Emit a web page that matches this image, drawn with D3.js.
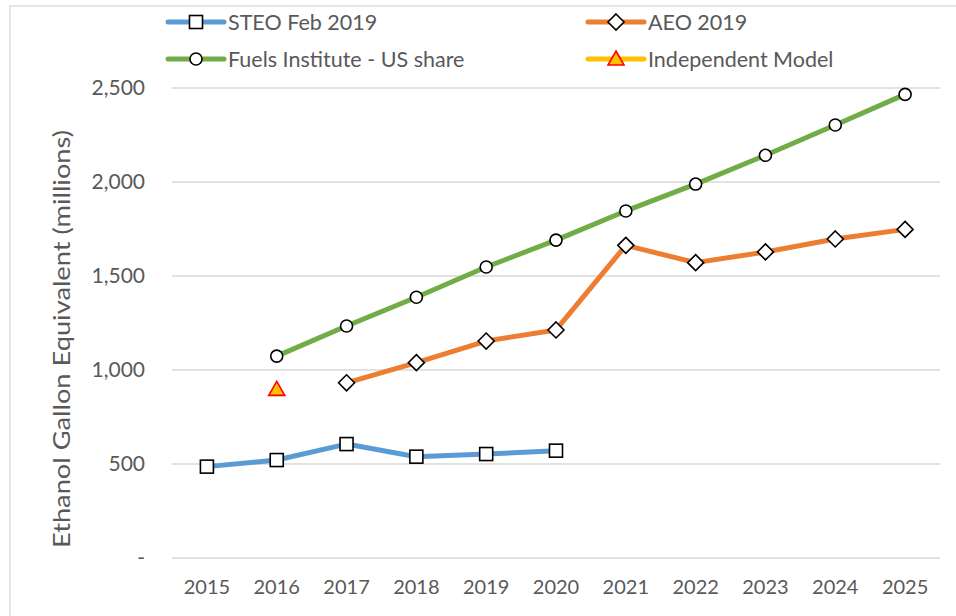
<!DOCTYPE html>
<html><head><meta charset="utf-8">
<script src="https://cdn.jsdelivr.net/npm/d3@7"></script>
<style>body{margin:0;background:#fff}svg{display:block}</style>
</head><body><svg id="c" width="956" height="616"></svg>
<script>
const years = ["2015","2016","2017","2018","2019","2020","2021","2022","2023","2024","2025"];
const steo = [486, 521, 606, 539, 553, 571, null, null, null, null, null];
const aeo = [null, null, 932, 1039, 1154, 1213, 1663, 1571, 1628, 1697, 1748];
const fuels = [null, 1074, 1234, 1387, 1548, 1691, 1846, 1989, 2142, 2303, 2466];
const indep = [null, 897, null, null, null, null, null, null, null, null, null];
const yTicks = [0, 500, 1000, 1500, 2000, 2500];
const seriesNames = ["STEO Feb 2019", "AEO 2019", "Fuels Institute - US share", "Independent Model"];

const svg = d3.select("#c");
const font = "Lato, 'Open Sans', sans-serif";
const grey = "#595959";

svg.append("rect").attr("x",10).attr("y",6).attr("width",1000).attr("height",700)
  .attr("fill","none").attr("stroke","#d9d9d9").attr("stroke-width",1.3);

const x = d3.scaleBand().domain(years).range([172, 940]);
const y = d3.scaleLinear().domain([0, 2500]).range([558, 88]);
const cx = d => x(d) + x.bandwidth()/2;

// gridlines
svg.append("g").selectAll("line").data(yTicks).join("line")
  .attr("x1",172).attr("x2",940).attr("y1",d=>y(d)).attr("y2",d=>y(d))
  .attr("stroke","#d9d9d9").attr("stroke-width",1.3);

// y axis labels
const yAxis = d3.axisLeft(y).tickValues(yTicks).tickSize(0).tickPadding(0)
  .tickFormat(d => d === 0 ? "-" : d3.format(",")(d));
const gy = svg.append("g").attr("transform","translate(145,0)").call(yAxis);
gy.select(".domain").remove();
gy.selectAll("text").attr("font-family",font).attr("font-size",21).attr("fill",grey);

// x axis labels
const xAxis = d3.axisBottom(x).tickSize(0).tickPadding(0);
const gx = svg.append("g").attr("transform","translate(0,580)").call(xAxis);
gx.select(".domain").remove();
gx.selectAll("text").attr("font-family",font).attr("font-size",20).attr("fill",grey);

// y title
svg.append("text").attr("transform","translate(70,339) rotate(-90)")
  .attr("text-anchor","middle").attr("font-family",font).attr("font-size",24).attr("fill",grey)
  .attr("textLength",418).attr("lengthAdjust","spacingAndGlyphs")
  .text("Ethanol Gallon Equivalent (millions)");

const line = d3.line().defined(d => d.v !== null).x(d => cx(d.k)).y(d => y(d.v));
const mk = arr => years.map((k,i)=>({k, v: arr[i]}));

const colors = ["#5B9BD5", "#ED7D31", "#70AD47", "#FFC000"];
const allSeries = [steo, aeo, fuels, indep];
const shapes = ["square","diamond","circle","triangle"];

function drawMarker(g, shape, px, py) {
  if (shape === "square") {
    g.append("rect").attr("x",px-6.5).attr("y",py-6.5).attr("width",13).attr("height",13)
      .attr("fill","#fff").attr("stroke","#000").attr("stroke-width",1.6);
  } else if (shape === "diamond") {
    g.append("path").attr("d",`M${px},${py-8}L${px+8},${py}L${px},${py+8}L${px-8},${py}Z`)
      .attr("fill","#fff").attr("stroke","#000").attr("stroke-width",1.6);
  } else if (shape === "circle") {
    g.append("circle").attr("cx",px).attr("cy",py).attr("r",6)
      .attr("fill","#fff").attr("stroke","#000").attr("stroke-width",1.6);
  } else {
    g.append("path").attr("d",`M${px},${py-8}L${px+8},${py+6}L${px-8},${py+6}Z`)
      .attr("fill","#FFC000").attr("stroke","#FF0000").attr("stroke-width",1.6);
  }
}

allSeries.forEach((arr, i) => {
  const data = mk(arr);
  svg.append("path").datum(data).attr("d", line).attr("fill","none")
    .attr("stroke", colors[i]).attr("stroke-width",5).attr("stroke-linejoin","round");
  const g = svg.append("g");
  data.filter(d => d.v !== null).forEach(d => drawMarker(g, shapes[i], cx(d.k), y(d.v)));
});

// legend
const legPos = [[168,22],[588,22],[168,59],[588,59]];
seriesNames.forEach((name, i) => {
  const [lx, ly] = legPos[i];
  const g = svg.append("g");
  g.append("line").attr("x1",lx).attr("x2",lx+56).attr("y1",ly).attr("y2",ly)
    .attr("stroke",colors[i]).attr("stroke-width",5).attr("stroke-linecap","round");
  drawMarker(g, shapes[i], lx+28, ly);
  g.append("text").attr("x",lx+60).attr("y",ly).attr("dy","0.35em")
    .attr("font-family",font).attr("font-size",21.5).attr("fill",grey).text(name);
});
</script></body></html>
